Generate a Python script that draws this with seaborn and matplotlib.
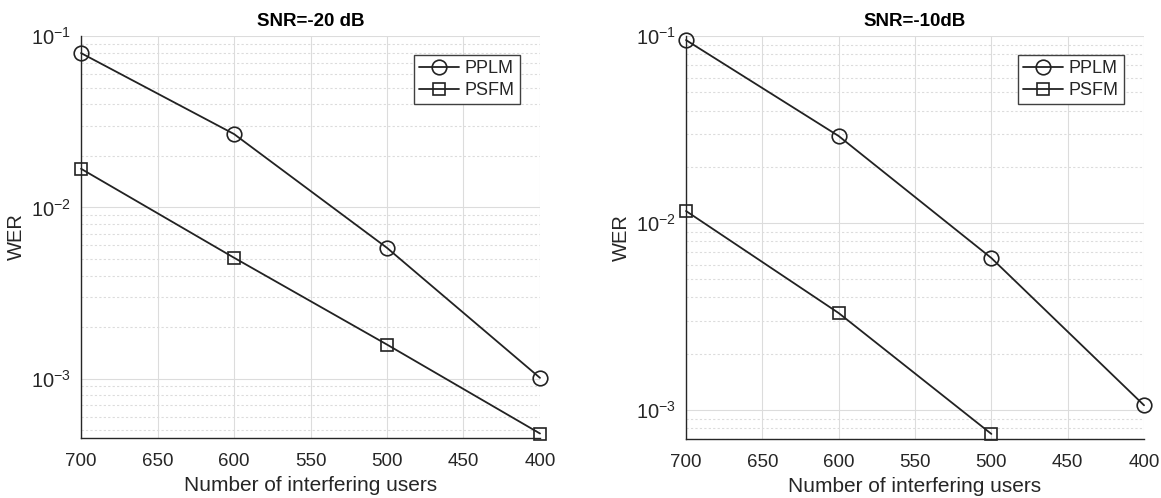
import numpy as np
import pandas as pd
import matplotlib
matplotlib.use("Agg")
import matplotlib.pyplot as plt
from matplotlib.ticker import LogLocator, NullFormatter
import seaborn as sns

# data
users = [700, 600, 500, 400]
titles = ["SNR=-20 dB", "SNR=-10dB"]
pplm_20 = [0.0796, 0.0268, 0.0058, 0.00101]
psfm_20 = [0.0168, 0.00508, 0.00158, 0.000478]
users_10_psfm = [700, 600, 500]
pplm_10 = [0.0952, 0.0292, 0.0065, 0.00106]
psfm_10 = [0.0116, 0.0033, 0.000745]
ylims = [(4.5e-4, 1e-1), (7.0e-4, 1e-1)]
xticks = [700, 650, 600, 550, 500, 450, 400]

sns.set_style("white")
plt.rcParams["font.family"] = ["Liberation Sans", "DejaVu Sans"]
plt.rcParams["mathtext.fontset"] = "custom"
plt.rcParams["mathtext.rm"] = "Liberation Sans"
plt.rcParams["mathtext.it"] = "Liberation Sans:italic"

ink = "#262626"
line_col = "#222222"

fig = plt.figure(figsize=(11.61, 4.98), dpi=100)
ax1 = fig.add_axes([0.0698, 0.1205, 0.3953, 0.807])
ax2 = fig.add_axes([0.5909, 0.1185, 0.3945, 0.809])

panels = [
    (ax1, users, pplm_20, users, psfm_20),
    (ax2, users, pplm_10, users_10_psfm, psfm_10),
]

for i, (ax, xa, ya, xb, yb) in enumerate(panels):
    ax.set_yscale("log")
    df_a = pd.DataFrame({"users": xa, "wer": ya})
    df_b = pd.DataFrame({"users": xb, "wer": yb})
    sns.lineplot(data=df_a, x="users", y="wer", ax=ax, color=line_col,
                 marker="o", markersize=10.5, markerfacecolor="none",
                 markeredgecolor=line_col, markeredgewidth=1.2,
                 linewidth=1.3, legend=False)
    sns.lineplot(data=df_b, x="users", y="wer", ax=ax, color=line_col,
                 marker="s", markersize=8.5, markerfacecolor="none",
                 markeredgecolor=line_col, markeredgewidth=1.2,
                 linewidth=1.3, legend=False)
    ax.lines[0].set_label("PPLM")
    ax.lines[1].set_label("PSFM")
    for ln in ax.lines:
        ln.set_clip_on(False)
        ln.set_zorder(5)

    ax.set_xlim(700, 400)
    ax.set_xticks(xticks)
    ax.set_ylim(*ylims[i])
    ax.yaxis.set_major_locator(LogLocator(base=10, numticks=10))
    ax.yaxis.set_minor_locator(LogLocator(base=10, subs=np.arange(2, 10), numticks=20))
    ax.yaxis.set_minor_formatter(NullFormatter())

    ax.grid(True, which="major", color="#dcdcdc", linewidth=0.8, linestyle="-")
    ax.grid(True, which="minor", axis="y", color="#dcdcdc", linewidth=0.8,
            linestyle=(0, (2, 2)))
    ax.set_axisbelow(True)

    for side in ["top", "right"]:
        ax.spines[side].set_visible(False)
    for side in ["left", "bottom"]:
        ax.spines[side].set_color(ink)
        ax.spines[side].set_linewidth(1.0)

    ax.tick_params(axis="x", which="major", direction="in", length=5,
                   width=0.8, color=ink, labelcolor=ink, labelsize=13.5, pad=11)
    ax.tick_params(axis="y", which="major", direction="in", length=5,
                   width=0.8, color=ink, labelcolor=ink, labelsize=14.5, pad=7)
    ax.tick_params(axis="y", which="minor", direction="in", length=3,
                   width=0.6, color=ink)
    ax.tick_params(axis="x", which="minor", length=0)

    ax.set_xlabel("Number of interfering users", fontsize=15, color=ink, labelpad=4)
    ax.set_ylabel("WER", fontsize=14.5, color=ink, labelpad=4)
    ax.set_title(titles[i], fontsize=13.5, fontweight="bold", color="black", pad=7)

    leg = ax.legend(loc="upper right", bbox_to_anchor=(0.956, 0.953),
                    fontsize=13, frameon=True, fancybox=False, framealpha=1,
                    edgecolor="#404040", handlelength=2.2, handletextpad=0.3,
                    borderpad=0.3, labelspacing=0.25, borderaxespad=0)
    leg.get_frame().set_linewidth(1.0)
    for t in leg.get_texts():
        t.set_color(ink)

fig.savefig("out.png", dpi=100)
